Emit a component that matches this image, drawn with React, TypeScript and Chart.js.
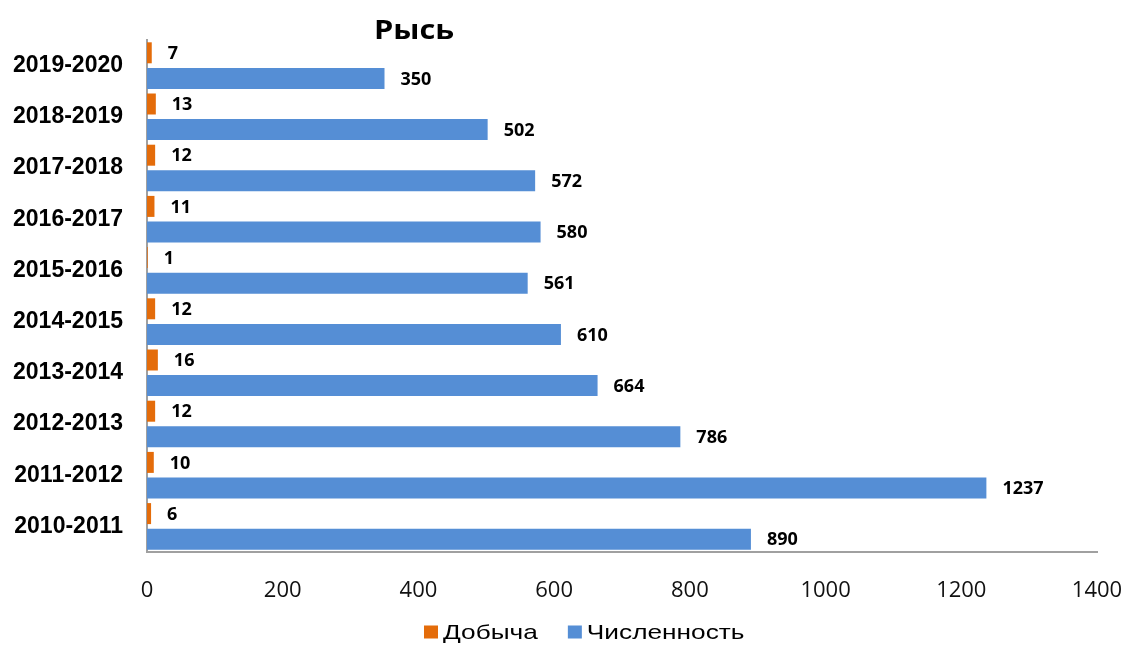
import React, { useEffect, useRef } from 'react';
import { Chart, registerables } from 'chart.js';

Chart.register(...registerables);

const chartTitle = 'Рысь';
const seasons = [
  '2010-2011', '2011-2012', '2012-2013', '2013-2014', '2014-2015',
  '2015-2016', '2016-2017', '2017-2018', '2018-2019', '2019-2020',
];
const harvest = [6, 10, 12, 16, 12, 1, 11, 12, 13, 7];
const population = [890, 1237, 786, 664, 610, 561, 580, 572, 502, 350];
const xTicks = [0, 200, 400, 600, 800, 1000, 1200, 1400];
const seriesNames = ['Добыча', 'Численность'];
const seriesColors = ['#E46C0A', '#558ED5'];

const W = 1126;
const H = 646;

const valueLabels = {
  id: 'valueLabels',
  afterDatasetsDraw(chart: any) {
    const ctx = chart.ctx;
    ctx.save();
    ctx.font = 'bold 18px "Open Sans"';
    ctx.fillStyle = '#000';
    ctx.textAlign = 'left';
    ctx.textBaseline = 'middle';
    chart.data.datasets.forEach((ds: any, di: number) => {
      const meta = chart.getDatasetMeta(di);
      meta.data.forEach((bar: any, i: number) => {
        ctx.fillText(String(ds.data[i]), bar.x + 16, bar.y + 1);
      });
    });
    ctx.restore();
  },
};

const titleAndLegend = {
  id: 'titleAndLegend',
  afterDraw(chart: any) {
    const ctx = chart.ctx;
    ctx.save();
    ctx.font = 'bold 27px "Open Sans"';
    ctx.fillStyle = '#000';
    ctx.textAlign = 'center';
    ctx.textBaseline = 'alphabetic';
    ctx.save();
    ctx.translate(414, 39);
    ctx.scale(1.14, 1);
    ctx.fillText(chartTitle, 0, 0);
    ctx.restore();

    ctx.font = '21px "Liberation Sans"';
    ctx.textAlign = 'left';
    ctx.textBaseline = 'middle';
    const stretch = 1.25;
    let x = 424;
    const yMid = 632;
    chart.data.datasets.forEach((ds: any) => {
      ctx.fillStyle = ds.backgroundColor;
      ctx.fillRect(x, yMid - 6.5, 14, 13);
      ctx.fillStyle = '#000';
      ctx.save();
      ctx.translate(x + 19, yMid + 1);
      ctx.scale(stretch, 1);
      ctx.fillText(ds.label, 0, 0);
      ctx.restore();
      x += 19 + ctx.measureText(ds.label).width * stretch + 30;
    });
    ctx.restore();
  },
};

export default function App() {
  const ref = useRef<HTMLCanvasElement>(null);

  useEffect(() => {
    if (!ref.current) return;
    const chart = new Chart(ref.current, {
      type: 'bar',
      data: {
        labels: seasons,
        datasets: [
          {
            label: seriesNames[0],
            data: harvest,
            backgroundColor: seriesColors[0],
            categoryPercentage: 1,
            barPercentage: 0.82,
          },
          {
            label: seriesNames[1],
            data: population,
            backgroundColor: seriesColors[1],
            categoryPercentage: 1,
            barPercentage: 0.82,
          },
        ],
      },
      options: {
        indexAxis: 'y',
        responsive: false,
        animation: false,
        layout: { padding: { top: 40, right: 0, bottom: 0, left: 0 } },
        plugins: {
          legend: { display: false },
          title: { display: false },
          tooltip: { enabled: false },
        },
        scales: {
          x: {
            min: xTicks[0],
            max: xTicks[xTicks.length - 1],
            grid: { display: false, drawTicks: false },
            border: { display: true, color: '#A0A0A0', width: 2 },
            ticks: {
              stepSize: xTicks[1] - xTicks[0],
              padding: 26,
              color: '#111',
              font: { family: '"Open Sans"', size: 22 },
              callback: (v: any) => String(v),
            },
            afterFit: (scale: any) => {
              scale.height = 94;
              scale.paddingLeft = 0;
              scale.paddingRight = 29;
            },
          },
          y: {
            reverse: true,
            grid: { display: false, drawTicks: false },
            border: { display: true, color: '#A0A0A0', width: 2 },
            ticks: {
              padding: 24,
              color: '#000',
              font: { family: '"Liberation Sans"', size: 23, weight: 'bold' },
            },
            afterFit: (scale: any) => {
              scale.width = 147;
            },
          },
        },
      },
      plugins: [valueLabels, titleAndLegend],
    });
    return () => chart.destroy();
  }, []);

  return (
    <div style={{ position: 'fixed', left: 0, top: 0, width: W, height: H, background: '#fff' }}>
      <canvas ref={ref} width={W} height={H} style={{ display: 'block' }} />
    </div>
  );
}
